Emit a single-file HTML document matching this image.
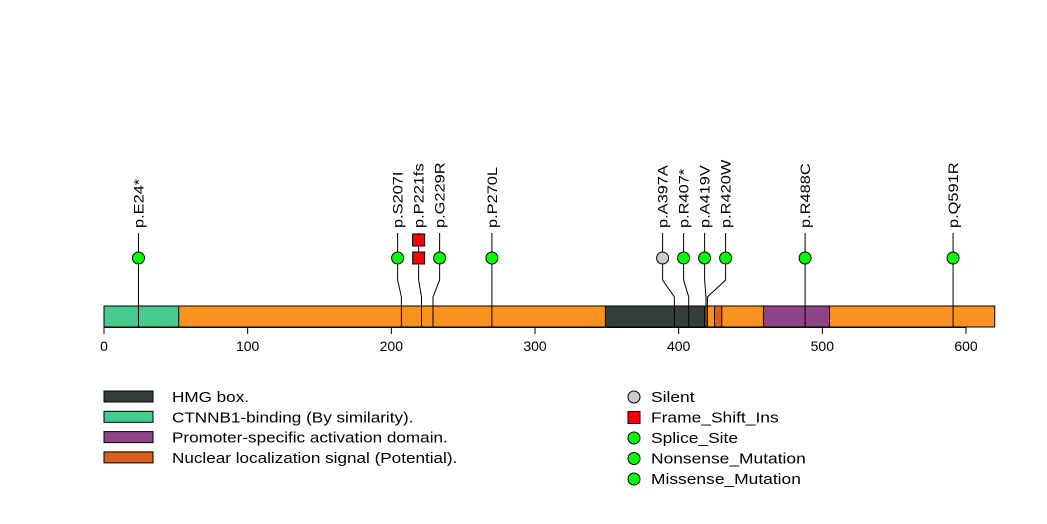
<!DOCTYPE html>
<html><head><meta charset="utf-8"><style>body{margin:0;background:#fff}svg{display:block;font-family:"Liberation Sans",sans-serif}</style></head>
<body>
<svg id="c" width="1047" height="524"></svg>
<script>
const domainNames=["CTNNB1-binding","HMG box","Nuclear localization signal","Promoter-specific activation domain"];
const domainStart=[0,349,425,459];
const domainEnd=[52,418,430,505];
const domainColors=["#44cc8e","#323f3a","#d9601f","#8e4587"];
const proteinLength=620;
const mutLabels=["p.E24*","p.S207I","p.P221fs","p.G229R","p.P270L","p.A397A","p.R407*","p.A419V","p.R420W","p.R488C","p.Q591R"];
const mutPos=[24,207,221,229,270,397,407,419,420,488,591];
const mutCount=[1,1,2,1,1,1,1,1,1,1,1];
const mutType=["s","s","f","s","s","silent","s","s","s","s","s"];
const ticks=[0,100,200,300,400,500,600];
const legDomains=["HMG box.","CTNNB1-binding (By similarity).","Promoter-specific activation domain.","Nuclear localization signal (Potential)."];
const legDomColors=["#323f3a","#44cc8e","#8e4587","#d9601f"];
const legMut=["Silent","Frame_Shift_Ins","Splice_Site","Nonsense_Mutation","Missense_Mutation"];
const legMutColors=["#cccccc","#ff0000","#00ff00","#00ff00","#00ff00"];
const NS="http://www.w3.org/2000/svg",svg=document.getElementById('c');
const x=v=>104+v*862/600;
function el(t,a,p){const e=document.createElementNS(NS,t);for(const k in a)e.setAttribute(k,a[k]);(p||svg).appendChild(e);return e;}
function widen(t,f){const w=t.getComputedTextLength();t.setAttribute('textLength',w*f);t.setAttribute('lengthAdjust','spacingAndGlyphs');}
let bb=el('rect',{x:x(0),y:306,width:x(proteinLength)-x(0),height:21,fill:'#f7931e',stroke:'#000','stroke-width':1});


domainStart.forEach((s,i)=>{const r=el('rect',{x:x(s),y:306,width:x(domainEnd[i])-x(s),height:21,fill:domainColors[i],stroke:'#000','stroke-width':1});

});
el('line',{x1:x(0),x2:x(600),y1:327.5,y2:327.5,stroke:'#000'});
ticks.forEach(t=>{el('line',{x1:x(t),x2:x(t),y1:327,y2:334,stroke:'#000'});
const tx=el('text',{x:x(t),y:351,'text-anchor':'middle','font-size':14});tx.textContent=t;

});
const cx=mutPos.map(p=>x(p));
const disp=cx.slice();
for(let it=0;it<50;it++)for(let i=1;i<disp.length;i++){if(disp[i]-disp[i-1]<21){const d=(21-(disp[i]-disp[i-1]))/2;disp[i]+=d;disp[i-1]-=d;}}
mutPos.forEach((p,i)=>{const bx=cx[i],dx=disp[i];
const g=el('g',{});

el('polyline',{points:`${bx},327 ${bx},297 ${dx},280 ${dx},233`,fill:'none',stroke:'#000','stroke-width':1},g);
for(let k=0;k<mutCount[i];k++){const cy=258-k*18;
if(mutType[i]=='f')el('rect',{x:dx-6,y:cy-6,width:12,height:12,fill:'#ff0000',stroke:'#000'},g);
else el('circle',{cx:dx,cy:cy,r:6,fill:mutType[i]=='silent'?'#cccccc':'#00ff00',stroke:'#000'},g);}
const t=el('text',{x:0,y:0,transform:`translate(${dx+5},228) rotate(-90)`,'font-size':14},g);t.textContent=mutLabels[i];widen(t,1.17);});
legDomains.forEach((n,i)=>{const y=391+i*20.3;
const r=el('rect',{x:104,y:y,width:49,height:11,fill:legDomColors[i],stroke:'#000'});


const t=el('text',{x:172,y:y+11,'font-size':14.5});t.textContent=n;widen(t,1.18);

});
legMut.forEach((n,i)=>{const y=397+i*20.5;
if(i==1)el('rect',{x:628,y:y-6,width:12,height:12,fill:legMutColors[i],stroke:'#000'});
else el('circle',{cx:634,cy:y,r:6,fill:legMutColors[i],stroke:'#000'});
const t=el('text',{x:651,y:y+5,'font-size':14.5});t.textContent=n;widen(t,1.2);

});
</script>
</body></html>
